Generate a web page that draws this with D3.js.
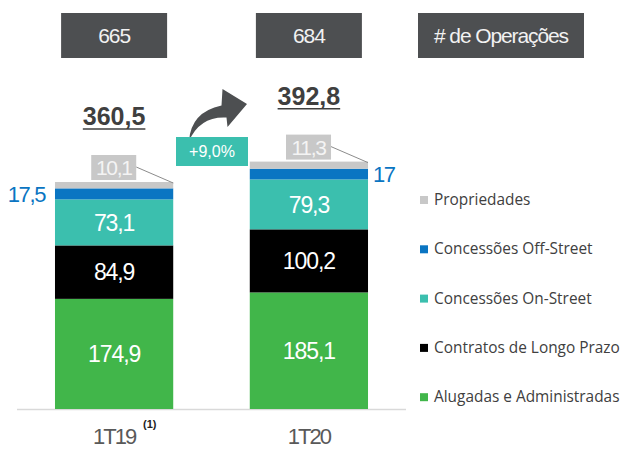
<!DOCTYPE html>
<html>
<head>
<meta charset="utf-8">
<script src="https://cdn.jsdelivr.net/npm/d3@7/dist/d3.min.js"></script>
<style>
  body { margin: 0; background: white; }
  svg { display: block; }
</style>
</head>
<body>
<div id="chart"></div>
<script>
var categories = ["1T19", "1T20"];
var seriesNames = ["Alugadas e Administradas", "Contratos de Longo Prazo", "Concessões On-Street", "Concessões Off-Street", "Propriedades"];
var alugadas = [174.9, 185.1];
var contratos = [84.9, 100.2];
var onStreet = [73.1, 79.3];
var offStreet = [17.5, 17];
var propriedades = [10.1, 11.3];
var totals = [360.5, 392.8];
var operacoes = [665, 684];
var crescimento = "+9,0%";

var colors = ["#41b64a", "#000000", "#3bbfae", "#0a75c2", "#c8c8c8"];
var sans = "'Liberation Sans', Arial, sans-serif";

var width = 622, height = 450;
var svg = d3.select("#chart").append("svg")
  .attr("width", width).attr("height", height);

var x = d3.scaleBand().domain(categories).range([17, 406])
  .paddingInner(0.393).paddingOuter(0.195);
var y = d3.scaleLinear().domain([0, 360.5]).range([409, 182]);

var seriesValues = [alugadas, contratos, onStreet, offStreet, propriedades];
var rows = categories.map(function (c, i) {
  var r = { cat: c };
  seriesNames.forEach(function (s, j) { r[s] = seriesValues[j][i]; });
  return r;
});
var stacked = d3.stack().keys(seriesNames)(rows);

// baseline
svg.append("line")
  .attr("x1", x.range()[0]).attr("x2", x.range()[1])
  .attr("y1", y(0) + 0.5).attr("y2", y(0) + 0.5)
  .attr("stroke", "#d9d9d9").attr("stroke-width", 1.5);

var layers = svg.selectAll("g.layer").data(stacked).enter()
  .append("g").attr("class", "layer")
  .attr("fill", function (d, i) { return colors[i]; });

layers.selectAll("rect").data(function (d) { return d; }).enter()
  .append("rect")
  .attr("x", function (d) { return x(d.data.cat); })
  .attr("width", x.bandwidth())
  .attr("y", function (d) { return y(d[1]); })
  .attr("height", function (d) { return y(d[0]) - y(d[1]); });

function fmt(v) { return String(v).replace(".", ","); }

// labels inside the three big segments
stacked.slice(0, 3).forEach(function (layer) {
  svg.selectAll(null).data(layer).enter().append("text")
    .attr("x", function (d) { return x(d.data.cat) + x.bandwidth() / 2; })
    .attr("y", function (d) { return (y(d[0]) + y(d[1])) / 2; })
    .attr("dy", "0.36em")
    .attr("text-anchor", "middle")
    .attr("fill", "white")
    .style("font-family", sans).style("font-size", "23px")
    .style("letter-spacing", "-1.1px")
    .text(function (d) { return fmt(d.data[layer.key]); });
});

// off-street labels outside the bars
var off = stacked[3];
svg.selectAll(null).data(off).enter().append("text")
  .attr("x", function (d, i) { return i === 0 ? x(d.data.cat) - 10 : x(d.data.cat) + x.bandwidth() + 5; })
  .attr("y", function (d) { return (y(d[0]) + y(d[1])) / 2; })
  .attr("dy", "0.36em")
  .attr("text-anchor", function (d, i) { return i === 0 ? "end" : "start"; })
  .attr("fill", "#0a75c2")
  .style("font-family", sans).style("font-size", "22px")
  .style("letter-spacing", "-1.4px")
  .text(function (d) { return fmt(d.data[off.key]); });

// propriedades callouts
var prop = stacked[4];
var callouts = svg.selectAll("g.callout").data(prop).enter().append("g").attr("class", "callout");
callouts.append("line")
  .attr("x1", function (d) { return x(d.data.cat) + x.bandwidth() - 37; })
  .attr("y1", function (d) { return y(d[1]) - 15; })
  .attr("x2", function (d) { return x(d.data.cat) + x.bandwidth(); })
  .attr("y2", function (d) { return y(d[1]) + 1; })
  .attr("stroke", "#8c8c8c").attr("stroke-width", 1);
callouts.append("rect")
  .attr("x", function (d) { return x(d.data.cat) + x.bandwidth() - 82; })
  .attr("y", function (d) { return y(d[1]) - 27; })
  .attr("width", 45).attr("height", 25)
  .attr("fill", "#c8c8c8");
callouts.append("text")
  .attr("x", function (d) { return x(d.data.cat) + x.bandwidth() - 59.5; })
  .attr("y", function (d) { return y(d[1]) - 14.5; })
  .attr("dy", "0.36em")
  .attr("text-anchor", "middle")
  .attr("fill", "#f4f4f4")
  .style("font-family", sans).style("font-size", "21px")
  .style("letter-spacing", "-1.3px")
  .text(function (d) { return fmt(d.data[prop.key]); });

// totals, underlined
categories.forEach(function (c, i) {
  var cx = x(c) + x.bandwidth() / 2;
  var ty = y(totals[i]) - 57;
  var t = svg.append("text")
    .attr("x", cx).attr("y", ty)
    .attr("text-anchor", "middle")
    .attr("fill", "#3f3f3f")
    .style("font-family", sans)
    .style("font-size", "25px").style("font-weight", "bold")
    .text(fmt(totals[i]));
  var w = t.node().getComputedTextLength();
  svg.append("line")
    .attr("x1", cx - w / 2).attr("x2", cx + w / 2)
    .attr("y1", ty + 4).attr("y2", ty + 4)
    .attr("stroke", "#3f3f3f").attr("stroke-width", 1.5);
});

// header boxes with number of operations
var boxes = categories.map(function (c, i) {
  return { cx: x(c) + x.bandwidth() / 2, w: 106, label: String(operacoes[i]) };
});
boxes.push({ cx: 501, w: 166, label: "# de Operações" });
var hdr = svg.selectAll("g.hdr").data(boxes).enter().append("g").attr("class", "hdr");
hdr.append("rect")
  .attr("x", function (d) { return d.cx - d.w / 2; })
  .attr("y", 13).attr("width", function (d) { return d.w; }).attr("height", 45)
  .attr("fill", "#4d4f51");
hdr.append("text")
  .attr("x", function (d) { return d.cx; }).attr("y", 35.5)
  .attr("dy", "0.36em").attr("text-anchor", "middle")
  .attr("fill", "#f2f2f2")
  .style("font-family", sans).style("font-size", "21px")
  .style("letter-spacing", "-1.1px")
  .text(function (d) { return d.label; });

// growth arrow and box
svg.append("path")
  .attr("d", "M189,141 Q191,112 221.5,105.5 L222.5,89 L247,104 L227.5,127 L226.5,117.5 Q200,116 189,141 Z")
  .attr("fill", "#4d4f51");
svg.append("rect")
  .attr("x", 176).attr("y", 137).attr("width", 72).attr("height", 29)
  .attr("fill", "#3bbfae");
svg.append("text")
  .attr("x", 212).attr("y", 151.5).attr("dy", "0.36em")
  .attr("text-anchor", "middle").attr("fill", "white")
  .style("font-family", sans).style("font-size", "16px")
  .text(crescimento);

// category labels
svg.selectAll("text.cat").data(categories).enter().append("text")
  .attr("class", "cat")
  .attr("x", function (d) { return x(d) + x.bandwidth() / 2; })
  .attr("y", 444)
  .attr("text-anchor", "middle")
  .attr("fill", "#595959")
  .style("font-family", sans).style("font-size", "22px")
  .style("letter-spacing", "-2px")
  .text(function (d) { return d; });
svg.append("text")
  .attr("x", 143).attr("y", 428)
  .attr("fill", "#222")
  .style("font-family", sans)
  .style("font-size", "11px").style("font-weight", "bold")
  .text("(1)");

// legend, top entry first
var legendItems = seriesNames.slice().reverse();
var legend = svg.selectAll("g.legend").data(legendItems).enter().append("g")
  .attr("class", "legend")
  .attr("transform", function (d, i) { return "translate(420," + (205 + i * 49.3) + ")"; });
legend.append("rect")
  .attr("x", 0).attr("y", -9).attr("width", 8).attr("height", 8)
  .attr("fill", function (d) { return colors[seriesNames.indexOf(d)]; });
legend.append("text")
  .attr("x", 14).attr("y", 0)
  .attr("fill", "#404040")
  .style("font-family", "'Open Sans', sans-serif").style("font-size", "15.4px")
  .text(function (d) { return d; });
</script>
</body>
</html>
